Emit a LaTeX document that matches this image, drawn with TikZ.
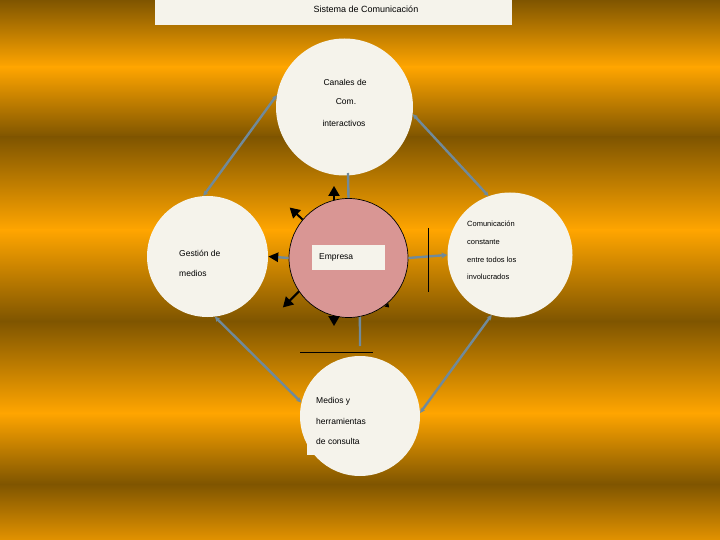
\documentclass[tikz,border=0pt]{standalone}
\usepackage{fontspec}
\setmainfont{Liberation Sans}
\usetikzlibrary{arrows.meta}
\definecolor{dk}{RGB}{127,85,0}
\definecolor{org}{RGB}{255,165,0}
\definecolor{endc}{RGB}{226,146,0}
\definecolor{paper}{RGB}{245,243,235}
\definecolor{rose}{RGB}{217,150,148}
\definecolor{steel}{RGB}{112,138,155}
\tikzset{
  bub/.style={circle, fill=paper, inner sep=0pt},
  txt/.style={anchor=west, inner sep=0pt, font=\fontsize{8.5}{10}\selectfont},
  txtc/.style={inner sep=0pt, font=\fontsize{8.5}{10}\selectfont},
  txts/.style={anchor=west, inner sep=0pt, font=\fontsize{7.5}{9}\selectfont},
  conn/.style={draw=steel, line width=2.4pt, {Stealth[length=5pt,width=5pt]}-{Stealth[length=5pt,width=5pt]}},
  sline/.style={draw=steel, line width=2.4pt},
  blk/.style={draw=black, line width=2pt, -{Triangle[length=10pt,width=11pt]}},
  rule/.style={draw=black, line width=1pt}
}
\begin{document}
\begin{tikzpicture}[x=1pt,y=-1pt]
\useasboundingbox (0,0) rectangle (720,540);
% background bands
\shade[top color=dk, bottom color=org] (0,0) rectangle (720,67);
\shade[top color=org, bottom color=dk] (0,67) rectangle (720,137);
\shade[top color=dk, bottom color=org] (0,137) rectangle (720,230);
\shade[top color=org, bottom color=dk] (0,230) rectangle (720,321);
\shade[top color=dk, bottom color=org] (0,321) rectangle (720,413);
\shade[top color=org, bottom color=dk] (0,413) rectangle (720,484);
\shade[top color=dk, bottom color=endc] (0,484) rectangle (720,540);
% title
\node[fill=paper, minimum width=357, minimum height=25, inner sep=0pt] (title) at (333.5,12.5) {};
\node[txtc, font=\fontsize{9}{10}\selectfont] (ttl) at (366,9) {Sistema de Comunicación};
% circles
\node[bub, minimum size=137] (top) at (344.5,107) {};
\node[bub, minimum size=121] (left) at (207.5,256.5) {};
\node[bub, minimum size=125] (right) at (510,255) {};
\node[bub, minimum size=120] (bot) at (360,416) {};
\node[circle, fill=rose, draw=black, line width=0.7pt, minimum size=119, inner sep=0pt] (emp) at (348.5,258) {};
% white text boxes
\node[fill=paper, minimum width=73, minimum height=25, inner sep=0pt] (empbox) at (348.5,257.5) {};
\node[fill=paper, minimum width=12, minimum height=16, inner sep=0pt, anchor=south west] (botbox) at (307,455) {};
% texts
\node[txtc] (t1) at (345,82) {Canales de};
\node[txtc] (t2) at (346,102) {Com.};
\node[txtc] (t3) at (344,123) {interactivos};
\node[txt] (l1) at (179,253) {Gestión de};
\node[txt] (l2) at (179,273) {medios};
\node[txt] (e1) at (319,257) {Empresa};
\node[txts] (r1) at (467,224) {Comunicación};
\node[txts] (r2) at (467,242) {constante};
\node[txts] (r3) at (467,260) {entre todos los};
\node[txts] (r4) at (467,277) {involucrados};
\node[txt] (b1) at (316,401) {Medios y};
\node[txt] (b2) at (316,421) {herramientas};
\node[txt] (b3) at (316,441) {de consulta};
% diagonal connectors
\draw[conn] (top.170) -- (left.94);
\draw[conn] (top.354) -- (right.110);
\draw[conn] (left.277) -- (bot.167);
\draw[conn] (right.253) -- (bot.3);
% links with Empresa
\coordinate (topfoot) at (348,173);
\draw[sline] (topfoot) -- (emp.north);
\draw[sline, -{Stealth[length=6pt,width=6pt]}] (emp.east) -- (right.west);
\coordinate (v1) at (428.5,228);
\coordinate (v2) at (428.5,292);
\draw[rule] (v1) -- (v2);
\coordinate (bfoot) at (360,346);
\draw[sline] (emp.281) -- (bfoot);
\coordinate (h1) at (300,352);
\coordinate (h2) at (373,352);
\draw[rule] (h1) -- (h2);
\draw[sline, -{Triangle[length=10pt,width=9pt,color=black]}] (emp.west) -- (left.east);
% black radial arrows
\draw[blk] (emp.104) -- ++(0,-14);
\draw[blk] (emp.140) -- ++(-13,-12);
\draw[blk] (emp.214) -- ++(-16,16);
\draw[blk] (emp.256) -- ++(0,10);
\draw[draw=black, line width=0.8pt, -{Triangle[length=4pt,width=5pt]}] (emp.309) -- ++(3,3);
\end{tikzpicture}
\end{document}
